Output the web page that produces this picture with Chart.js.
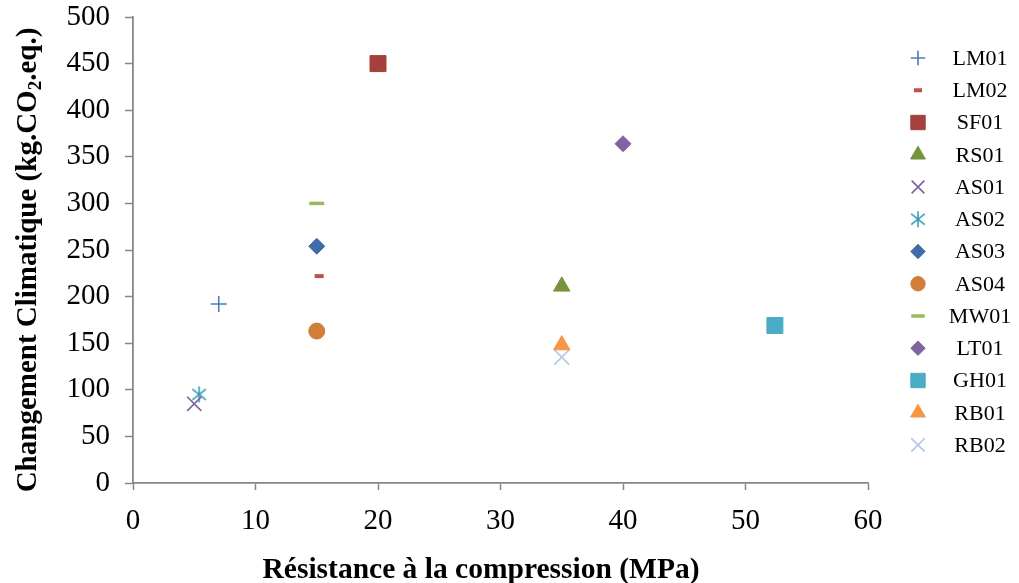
<!DOCTYPE html>
<html>
<head>
<meta charset="utf-8">
<script src="https://cdn.jsdelivr.net/npm/chart.js@4/dist/chart.umd.min.js"></script>
<style>
  html, body { margin: 0; padding: 0; background: #ffffff; }
  #wrap { width: 1019px; height: 583px; position: relative; }
</style>
</head>
<body>
<div id="wrap"><canvas id="c" width="1019" height="583"></canvas></div>
<script>
// ---- data ----
const seriesNames = ['LM01','LM02','SF01','RS01','AS01','AS02','AS03','AS04','MW01','LT01','GH01','RB01','RB02'];
const strengthMPa = [7, 15.2, 20, 35, 5, 5.4, 15, 15, 15, 40, 52.4, 35, 35];
const climateKgCO2 = [192, 222, 450, 211, 85, 95, 254, 163, 300, 364, 169, 148, 135];
const xTicks = [0, 10, 20, 30, 40, 50, 60];
const yTicks = [0, 50, 100, 150, 200, 250, 300, 350, 400, 450, 500];
const xTitle = 'Résistance à la compression (MPa)';
const yTitleParts = ['Changement Climatique (kg.CO', '2', '.eq.)'];

// ---- styles ----
const colors = ['#4A7EBB','#C0504D','#A5403C','#77933C','#7D60A0','#3A9BB5','#3F6CA8','#D07E3A','#9BBB59','#8064A2','#4BACC6','#F79646','#B3C6E7'];
const styles = ['cross','line','rect','triangle','crossRot','asterisk','rectRot','circle','line','rectRot','rect','triangle','crossRot'];
const radii  = [8, 4.5, 11.3, 9.5, 10, 8, 8, 8, 7.5, 8, 11.3, 9.5, 10.5];
const widths = [1.6, 4, 1, 1, 1.6, 1.6, 1, 1, 3.5, 1, 1, 1, 1.6];

function makeAsterisk(color, r, lw) {
  const s = Math.ceil(2 * r + 4);
  const cv = document.createElement('canvas');
  cv.width = s; cv.height = s;
  const g = cv.getContext('2d');
  const c = s / 2;
  g.strokeStyle = color; g.lineWidth = lw;
  g.beginPath();
  g.moveTo(c, c - r); g.lineTo(c, c + r);
  const d = r * 0.85;
  g.moveTo(c - d, c - d * 0.8); g.lineTo(c + d, c + d * 0.8);
  g.moveTo(c - d, c + d * 0.8); g.lineTo(c + d, c - d * 0.8);
  g.stroke();
  return cv;
}

const datasets = seriesNames.map((name, i) => {
  let ps = styles[i];
  if (ps === 'asterisk') ps = makeAsterisk(colors[i], radii[i], widths[i]);
  return {
    label: name,
    data: [{ x: strengthMPa[i], y: climateKgCO2[i] }],
    pointStyle: ps,
    pointRadius: radii[i],
    pointHoverRadius: radii[i],
    pointBorderWidth: widths[i],
    borderColor: colors[i],
    backgroundColor: colors[i],
    showLine: false
  };
});

const AXIS = '#868686';
const FONT = "'Liberation Serif', 'Times New Roman', serif";

const customDraw = {
  id: 'customDraw',
  afterDraw(chart) {
    const ctx = chart.ctx;
    // x title
    ctx.save();
    ctx.fillStyle = '#000';
    ctx.font = 'bold 29.5px ' + FONT;
    ctx.textAlign = 'center';
    ctx.textBaseline = 'alphabetic';
    ctx.fillText(xTitle, 481, 578);
    ctx.restore();

    // y title (rotated, with subscript)
    ctx.save();
    ctx.fillStyle = '#000';
    ctx.translate(27, 260);
    ctx.rotate(-Math.PI / 2);
    const big = 'bold 29px ' + FONT, small = 'bold 19px ' + FONT;
    ctx.font = big; const w1 = ctx.measureText(yTitleParts[0]).width;
    ctx.font = small; const w2 = ctx.measureText(yTitleParts[1]).width;
    ctx.font = big; const w3 = ctx.measureText(yTitleParts[2]).width;
    let x0 = -(w1 + w2 + w3) / 2;
    ctx.textAlign = 'left';
    ctx.textBaseline = 'alphabetic';
    ctx.font = big; ctx.fillText(yTitleParts[0], x0, 9);
    ctx.font = small; ctx.fillText(yTitleParts[1], x0 + w1, 14);
    ctx.font = big; ctx.fillText(yTitleParts[2], x0 + w1 + w2, 9);
    ctx.restore();

    // legend
    ctx.save();
    chart.data.datasets.forEach((ds, i) => {
      const y = 58 + i * 32.25;
      ctx.strokeStyle = ds.borderColor;
      ctx.fillStyle = ds.backgroundColor;
      ctx.lineWidth = ds.pointBorderWidth;
      Chart.helpers.drawPoint(ctx, { pointStyle: ds.pointStyle, rotation: 0, radius: ds.pointRadius * 0.9, borderWidth: ds.pointBorderWidth }, 918, y);
      ctx.fillStyle = '#000';
      ctx.font = '22px ' + FONT;
      ctx.textAlign = 'center';
      ctx.textBaseline = 'middle';
      ctx.fillText(ds.label, 980, y + 1);
    });
    ctx.restore();
  }
};

new Chart(document.getElementById('c'), {
  type: 'scatter',
  data: { datasets },
  options: {
    responsive: false,
    animation: false,
    events: [],
    layout: { padding: { left: 0, right: 151, top: 17, bottom: 0 } },
    plugins: { legend: { display: false }, tooltip: { enabled: false } },
    scales: {
      x: {
        type: 'linear', min: 0, max: 60,
        afterBuildTicks(s) { s.ticks = xTicks.map(v => ({ value: v })); },
        afterFit(s) { s.height = 100; s.paddingLeft = 0; s.paddingRight = 0; },
        grid: { drawOnChartArea: false, drawTicks: true, tickLength: 7, tickColor: AXIS, tickWidth: 1.5 },
        border: { color: AXIS, width: 1.8 },
        ticks: { color: '#000', font: { family: FONT, size: 29 }, padding: 14, maxRotation: 0 }
      },
      y: {
        type: 'linear', min: 0, max: 500,
        afterBuildTicks(s) { s.ticks = yTicks.map(v => ({ value: v })); },
        afterFit(s) { s.width = 133; s.paddingTop = 0; s.paddingBottom = 0; },
        grid: { drawOnChartArea: false, drawTicks: true, tickLength: 8, tickColor: AXIS, tickWidth: 1.5 },
        border: { color: AXIS, width: 1.8 },
        ticks: { color: '#000', font: { family: FONT, size: 29 }, padding: 15 }
      }
    }
  },
  plugins: [customDraw]
});
</script>
</body>
</html>
